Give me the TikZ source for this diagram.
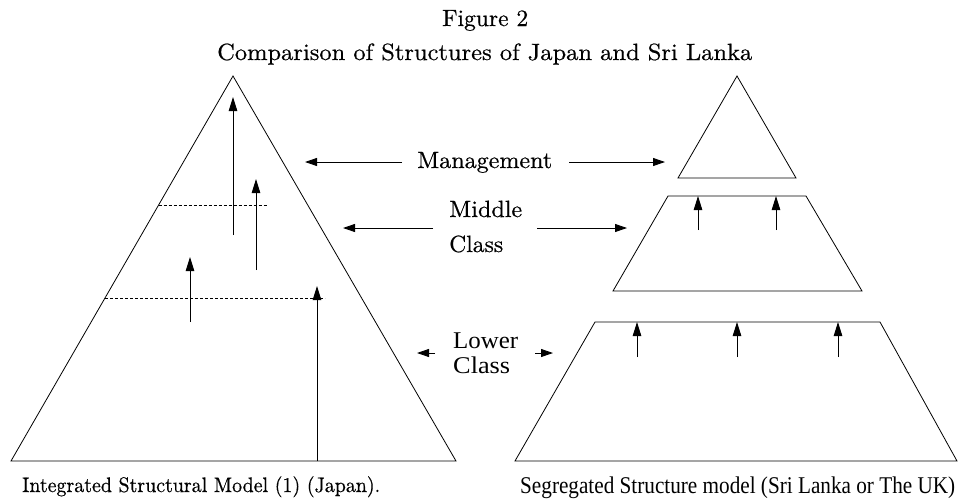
\documentclass[tikz,border=0pt]{standalone}
\usepackage{graphicx}
\usepackage{fontspec}
\newfontfamily\timesf{Liberation Serif}
\newfontfamily\lmten[FakeBold=0.5]{lmroman10-regular.otf}
\newcommand{\fitw}[2]{\resizebox{#1}{\height}{#2}}
\usetikzlibrary{arrows.meta}
\begin{document}
\begin{tikzpicture}[x=1pt,y=-1pt,
  outline/.style={line width=0.8pt, line join=miter},
  up/.style={line width=0.9pt, -{Triangle[length=14pt,width=8.5pt]}},
  side/.style={line width=0.9pt, -{Triangle[length=12pt,width=8pt]}},
  lvl/.style={line width=0.7pt, dash pattern=on 3pt off 2pt},
  txt/.style={inner sep=0pt, font=\lmten\fontsize{23.5}{25}\selectfont},
  ttxt/.style={inner sep=0pt, font=\timesf\fontsize{24}{25}\selectfont},
  captxt/.style={inner sep=0pt, font=\lmten\fontsize{21}{22}\selectfont}]
\useasboundingbox (0,0) rectangle (958,501);
% titles
\node[txt, anchor=base west] (fig) at (442,26) {\fitw{86pt}{Figure 2}};
\node[txt, anchor=base west] (title) at (217,60) {\fitw{535pt}{Comparison of Structures of Japan and Sri Lanka}};
% left pyramid
\draw[outline] (233,76) coordinate (lt) -- (456,461) coordinate (lr) -- (11,461) coordinate (ll) -- cycle;
\draw[lvl] (158.5,205) coordinate (d1a) -- (267,205) coordinate (d1b);
\draw[lvl] (105,298) coordinate (d2a) -- (325,298) coordinate (d2b);
\coordinate (a1s) at (233,235); \coordinate (a1e) at (233,97);
\coordinate (a2s) at (256,270); \coordinate (a2e) at (256,179);
\coordinate (a3s) at (190,322); \coordinate (a3e) at (190,257);
\coordinate (a4s) at (317,461); \coordinate (a4e) at (317,286);
\draw[up] (a1s) -- (a1e);
\draw[up] (a2s) -- (a2e);
\draw[up] (a3s) -- (a3e);
\draw[up] (a4s) -- (a4e);
% labels
\node[txt, anchor=base west] (mg) at (417,168) {\fitw{135pt}{Management}};
\coordinate (mgL) at (305,162); \coordinate (mgR) at (665,162);
\draw[side] (402,162) coordinate (mgLs) -- (mgL);
\draw[side] (569,162) coordinate (mgRs) -- (mgR);
\node[txt, anchor=base west] (mid1) at (449,217) {\fitw{73pt}{Middle}};
\node[txt, anchor=base west] (mid2) at (449,252) {\fitw{54pt}{Class}};
\coordinate (mdL) at (343,228); \coordinate (mdR) at (627,228);
\draw[side] (433,228) coordinate (mdLs) -- (mdL);
\draw[side] (537,228) coordinate (mdRs) -- (mdR);
\node[ttxt, anchor=base west] (low1) at (453,348) {\fitw{65pt}{Lower}};
\node[ttxt, anchor=base west] (low2) at (453,373) {\fitw{57pt}{Class}};
\coordinate (lwL) at (417,353); \coordinate (lwR) at (553,353);
\draw[side] (435,353) coordinate (lwLs) -- (lwL);
\draw[side] (535,353) coordinate (lwRs) -- (lwR);
% right structures
\draw[outline] (737,76) coordinate (rt) -- (796,178) -- (678,178) -- cycle;
\draw[outline] (668,196) coordinate (m1) -- (806,196) coordinate (m2) -- (862,291) -- (613,291) -- cycle;
\draw[up] (698,230) coordinate (ma1) -- (698,196);
\draw[up] (776,230) coordinate (ma2) -- (776,196);
\draw[outline] (595,322) coordinate (b1) -- (880,322) coordinate (b2) -- (957,461) -- (515,461) -- cycle;
\draw[up] (637,357) coordinate (ba1) -- (637,322);
\draw[up] (737,357) coordinate (ba2) -- (737,322);
\draw[up] (838,357) coordinate (ba3) -- (838,322);
% captions
\node[captxt, anchor=base west] (c1) at (22,492) {\fitw{358pt}{Integrated Structural Model (1) (Japan).}};
\node[ttxt, anchor=base west] (c2) at (520,493) {\fitw{435pt}{Segregated Structure model (Sri Lanka or The UK)}};
\end{tikzpicture}
\end{document}
